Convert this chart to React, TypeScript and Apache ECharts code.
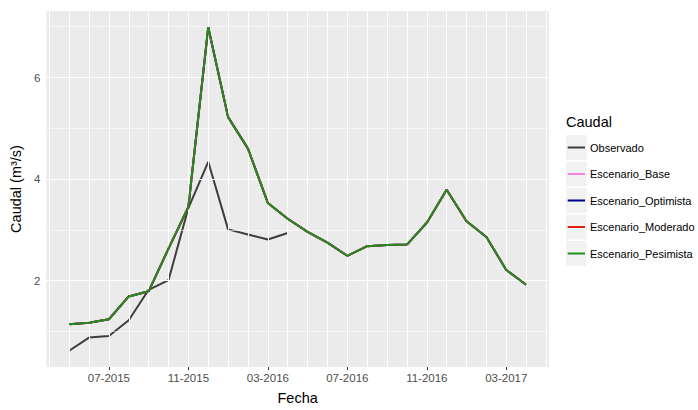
import React, { useEffect, useRef } from "react";
import * as echarts from "echarts";

// Monthly dates (index 0 = 05-2015)
const fechas = [
  "05-2015", "06-2015", "07-2015", "08-2015", "09-2015", "10-2015", "11-2015", "12-2015",
  "01-2016", "02-2016", "03-2016", "04-2016", "05-2016", "06-2016", "07-2016", "08-2016",
  "09-2016", "10-2016", "11-2016", "12-2016", "01-2017", "02-2017", "03-2017", "04-2017",
];
const observado = [0.62, 0.88, 0.91, 1.22, 1.82, 2.01, 3.43, 4.34, 3.01, 2.91, 2.81, 2.94];
const escenarioBase = [
  1.14, 1.17, 1.24, 1.69, 1.79, 2.63, 3.45, 6.99, 5.22, 4.6, 3.53, 3.22,
  2.96, 2.75, 2.49, 2.68, 2.7, 2.71, 3.14, 3.79, 3.17, 2.86, 2.21, 1.92,
];
const escenarioOptimista = [...escenarioBase];
const escenarioModerado = [...escenarioBase];
const escenarioPesimista = [...escenarioBase];

const xTickIdx = [2, 6, 10, 14, 18, 22];
const yTicks = [2, 4, 6];
const yMinor = [1, 3, 5, 7];

const seriesNames = [
  "Observado",
  "Escenario_Base",
  "Escenario_Optimista",
  "Escenario_Moderado",
  "Escenario_Pesimista",
];
const seriesData = [observado, escenarioBase, escenarioOptimista, escenarioModerado, escenarioPesimista];
const seriesColors = ["#3d3d3d", "#EE82EE", "#00008B", "#E0201B", "#228B22"];

const FONT = "Liberation Sans, Arial, Helvetica, sans-serif";

export default function App() {
  const ref = useRef<HTMLDivElement>(null);
  useEffect(() => {
    if (!ref.current) return;
    const chart = echarts.init(ref.current, undefined, { renderer: "svg" });

    const vLines = [];
    for (let i = -1; i <= fechas.length; i++) {
      vLines.push({ xAxis: i, lineStyle: { color: "#ffffff", width: 1, type: "solid" } });
    }
    const hLines = [
      ...yTicks.map((v) => ({ yAxis: v, lineStyle: { color: "#ffffff", width: 1.1, type: "solid" } })),
      ...yMinor.map((v) => ({ yAxis: v, lineStyle: { color: "#ffffff", width: 0.55, type: "solid" } })),
    ];

    const legendTop = 147.5;
    const pitch = 26.5;

    const graphics: any[] = [
      {
        type: "text",
        left: 566,
        top: 114,
        style: { text: "Caudal", font: `14.5px ${FONT}`, fill: "#000000" },
        z: 1,
      },
    ];
    seriesNames.forEach((_, i) => {
      graphics.push({
        type: "rect",
        shape: { x: 566, y: legendTop + i * pitch - 12.5, width: 20.7, height: 25 },
        style: { fill: "#F2F2F2" },
        z: 0,
      });
    });

    const option: any = {
      animation: false,
      backgroundColor: "#ffffff",
      grid: {
        left: 42.7,
        right: 698 - 549,
        top: 11,
        bottom: 410 - 370.7,
        show: true,
        backgroundColor: "#EBEBEB",
        borderWidth: 0,
      },
      xAxis: {
        type: "value",
        min: -1.15,
        max: fechas.length - 1 + 1.15,
        name: "Fecha",
        nameLocation: "middle",
        nameGap: 23,
        nameTextStyle: { fontFamily: FONT, fontSize: 14.5, color: "#000000" },
        axisLine: { show: false },
        axisTick: { show: true, length: 3, customValues: xTickIdx, lineStyle: { color: "#333333", width: 1 } },
        axisLabel: {
          customValues: xTickIdx,
          formatter: (v: number) => fechas[Math.round(v)] ?? "",
          color: "#4D4D4D",
          fontFamily: FONT,
          fontSize: 11.5,
          margin: 5,
        },
        splitLine: { show: false },
      },
      yAxis: {
        type: "value",
        min: 0.3,
        max: 7.31,
        name: "Caudal (m³/s)",
        nameLocation: "middle",
        nameGap: 18,
        nameTextStyle: { fontFamily: FONT, fontSize: 14.5, color: "#000000" },
        axisLine: { show: false },
        axisTick: { show: true, length: 3, customValues: yTicks, lineStyle: { color: "#333333", width: 1 } },
        axisLabel: {
          customValues: yTicks,
          color: "#4D4D4D",
          fontFamily: FONT,
          fontSize: 11.5,
          margin: 6,
        },
        splitLine: { show: false },
      },
      legend: {
        orient: "vertical",
        left: 567.7,
        top: legendTop - 7,
        padding: 0,
        icon: "rect",
        itemWidth: 17.3,
        itemHeight: 2,
        itemGap: pitch - 14,
        data: seriesNames,
        textStyle: { fontFamily: FONT, fontSize: 11, color: "#000000", lineHeight: 14 },
        z: 5,
      },
      graphic: graphics,
      series: [
        {
          name: "_grid",
          type: "line",
          data: [],
          silent: true,
          z: 1,
          markLine: {
            silent: true,
            symbol: ["none", "none"],
            label: { show: false },
            animation: false,
            data: [...hLines, ...vLines],
          },
        },
        ...seriesNames.map((name, k) => ({
          name,
          type: "line",
          data: seriesData[k].map((v, i) => [i, v]),
          showSymbol: false,
          symbol: "none",
          color: seriesColors[k],
          lineStyle: { color: seriesColors[k], width: 2 },
          z: 2 + k,
        })),
      ],
    };
    chart.setOption(option);
    return () => chart.dispose();
  }, []);
  return (
    <div
      ref={ref}
      style={{ position: "fixed", left: 0, top: 0, width: 698, height: 410 }}
    />
  );
}
